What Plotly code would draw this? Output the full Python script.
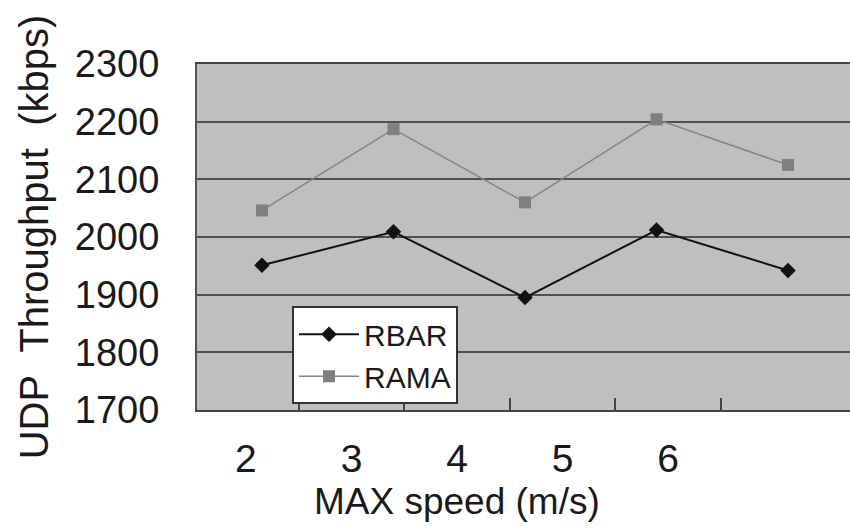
import plotly.graph_objects as go

# Maximum node speed (m/s) and UDP throughput (kbps) for each routing scheme
speeds = [2, 3, 4, 5, 6]
speed_labels = ["2", "3", "4", "5", "6"]
rbar = [1951, 2009, 1895, 2012, 1942]
rama = [2046, 2187, 2060, 2204, 2125]
y_ticks = [1700, 1800, 1900, 2000, 2100, 2200, 2300]

FONT = "Arial, Liberation Sans, sans-serif"
TEXT = "#1a1a1a"

fig = go.Figure()

fig.add_trace(go.Scatter(
    x=speeds, y=rbar, name="RBAR", mode="lines+markers",
    line=dict(color="#111111", width=2),
    marker=dict(symbol="diamond", size=12, color="#111111"),
))
fig.add_trace(go.Scatter(
    x=speeds, y=rama, name="RAMA", mode="lines+markers",
    line=dict(color="#858585", width=1.5),
    marker=dict(symbol="square", size=12, color="#7f7f7f"),
))

fig.update_layout(
    width=850, height=528,
    margin=dict(l=197, r=0, t=64, b=118),
    paper_bgcolor="white",
    plot_bgcolor="#bfbfbf",
    font=dict(family=FONT, color=TEXT),
    showlegend=True,
    legend=dict(
        x=0.1455, y=0.3, xanchor="left", yanchor="top",
        bgcolor="white", bordercolor="#333333", borderwidth=2,
        font=dict(size=30, family=FONT, color=TEXT),
        itemwidth=60, tracegroupgap=0,
    ),
    # data axis (points placed on it, labels hidden)
    xaxis=dict(
        range=[1.506, 6.471],
        showticklabels=False, ticks="", showgrid=False, zeroline=False,
        showline=True, mirror=True, linecolor="#444444", linewidth=2,
    ),
    # labelled speed axis with separators between categories
    xaxis2=dict(
        overlaying="x", anchor="y", side="bottom",
        range=[1.536, 7.725],
        tickmode="array", tickvals=speeds, ticktext=speed_labels,
        ticks="", ticklabelstandoff=22,
        tickfont=dict(size=39, family=FONT, color=TEXT),
        minor=dict(tickvals=[s + 0.5 for s in speeds], ticks="inside",
                   ticklen=12, tickwidth=2, tickcolor="#444444", showgrid=False),
        showgrid=False, zeroline=False, showline=False,
    ),
    yaxis=dict(
        range=[1700, 2300],
        tickmode="array", tickvals=y_ticks,
        ticks="", ticklabelstandoff=28,
        tickfont=dict(size=38, family=FONT, color=TEXT),
        showgrid=True, gridcolor="#505050", gridwidth=2,
        zeroline=False,
        showline=True, linecolor="#555555", linewidth=2,
        title=dict(text="UDP\u00a0\u00a0Throughput\u00a0\u00a0(kbps)",
                   font=dict(size=40, family=FONT, color=TEXT), standoff=14),
    ),
)

# axis title centred under the speed labels
fig.add_annotation(
    text="MAX speed (m/s)", xref="x2", yref="paper",
    x=(min(speeds) + max(speeds)) / 2, y=-0.265,
    xanchor="center", yanchor="middle", showarrow=False,
    font=dict(size=37, family=FONT, color=TEXT),
)

# the labelled axis needs a trace to be drawn; an invisible one spans the speeds
fig.add_trace(go.Scatter(
    x=speeds, y=rbar, xaxis="x2", mode="markers",
    marker=dict(opacity=0), showlegend=False, hoverinfo="skip",
))

fig.write_html("out.html")
